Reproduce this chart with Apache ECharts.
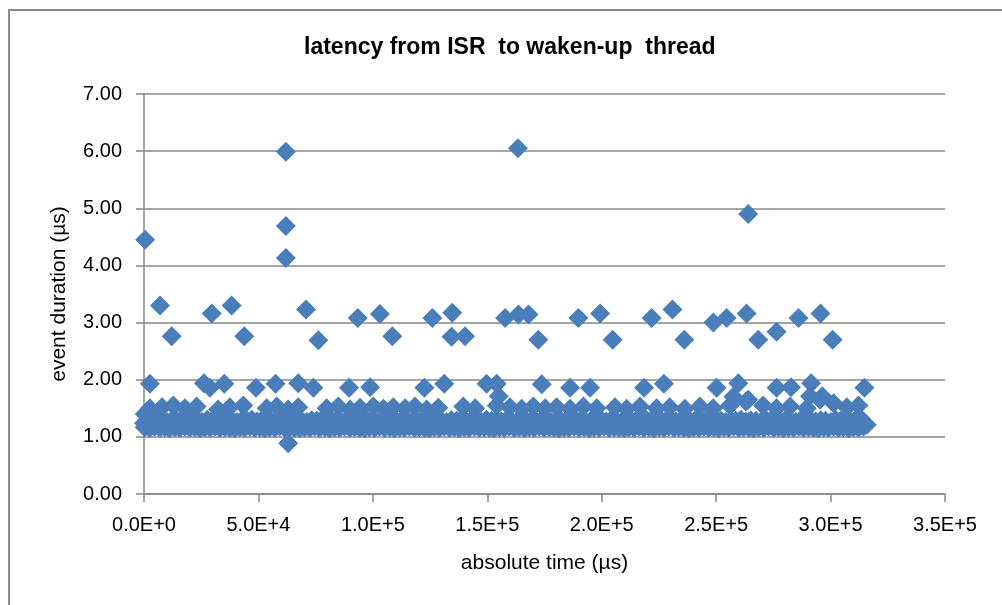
<!DOCTYPE html>
<html>
<head>
<meta charset="utf-8">
<script src="https://cdn.jsdelivr.net/npm/echarts@6/dist/echarts.min.js"></script>
<style>
html,body{margin:0;padding:0;background:#fff;}
#chart{width:1002px;height:605px;}
</style>
</head>
<body>
<div id="chart"></div>
<script>
const titleText = 'latency from ISR  to waken-up  thread';
const xAxisName = 'absolute time (µs)';
const yAxisName = 'event duration (µs)';
const xTickLabels = ['0.0E+0','5.0E+4','1.0E+5','1.5E+5','2.0E+5','2.5E+5','3.0E+5','3.5E+5'];
const yTickLabels = ['0.00','1.00','2.00','3.00','4.00','5.00','6.00','7.00'];

// dense baseline, lower row [time µs, duration µs]
const baseLow = [[300,1.17],[2500,1.16],[4600,1.18],[6900,1.16],[9100,1.17],[11200,1.15],[13500,1.17],[15600,1.16],[17900,1.18],[20000,1.16],[22200,1.17],[24500,1.15],[26600,1.17],[28800,1.16],[31000,1.18],[33100,1.16],[35400,1.17],[37500,1.16],[39700,1.15],[41900,1.17],[44000,1.16],[46300,1.18],[48400,1.16],[50600,1.17],[52800,1.15],[54900,1.17],[57200,1.16],[59300,1.18],[61500,1.16],[63700,1.17],[65800,1.16],[68100,1.15],[70200,1.17],[72400,1.16],[74600,1.18],[76700,1.16],[79000,1.17],[81100,1.15],[83300,1.17],[85500,1.16],[87600,1.18],[89900,1.16],[92000,1.17],[94200,1.16],[96400,1.15],[98500,1.17],[100800,1.16],[102900,1.18],[105100,1.16],[107300,1.17],[109400,1.15],[111700,1.17],[113800,1.16],[116000,1.18],[118200,1.16],[120300,1.17],[122600,1.16],[124700,1.15],[126900,1.17],[129100,1.16],[131200,1.18],[133500,1.16],[135600,1.17],[137800,1.15],[140000,1.17],[142100,1.16],[144400,1.18],[146500,1.16],[148700,1.17],[150900,1.16],[153000,1.15],[155300,1.17],[157400,1.16],[159600,1.18],[161800,1.16],[163900,1.17],[166200,1.15],[168300,1.17],[170500,1.16],[172700,1.18],[174800,1.16],[177100,1.17],[179200,1.16],[181400,1.15],[183600,1.17],[185700,1.16],[188000,1.18],[190100,1.16],[192300,1.17],[194500,1.15],[196600,1.17],[198900,1.16],[201000,1.18],[203200,1.16],[205400,1.17],[207500,1.16],[209800,1.15],[211900,1.17],[214100,1.16],[216300,1.18],[218400,1.16],[220700,1.17],[222800,1.15],[225000,1.17],[227200,1.16],[229300,1.18],[231600,1.16],[233700,1.17],[235900,1.16],[238100,1.15],[240200,1.17],[242500,1.16],[244600,1.18],[246800,1.16],[249000,1.17],[251100,1.15],[253400,1.17],[255500,1.16],[257700,1.18],[259900,1.16],[262000,1.17],[264300,1.16],[266400,1.15],[268600,1.17],[270800,1.16],[272900,1.18],[275200,1.16],[277300,1.17],[279500,1.15],[281700,1.17],[283800,1.16],[286100,1.18],[288200,1.16],[290400,1.17],[292600,1.16],[294700,1.15],[297000,1.17],[299100,1.16],[301300,1.18],[303500,1.16],[305600,1.17],[307900,1.15],[310000,1.17],[312200,1.16],[314400,1.18],[315800,1.21]];

// dense baseline, upper row
const baseHigh = [[0,1.24],[1300,1.29],[3500,1.27],[5700,1.30],[7900,1.28],[10100,1.26],[12300,1.29],[14400,1.28],[16700,1.30],[18800,1.27],[21000,1.29],[23200,1.28],[25300,1.26],[27600,1.30],[29700,1.28],[31900,1.29],[34100,1.27],[36200,1.30],[38500,1.28],[40600,1.26],[42800,1.29],[45000,1.28],[47100,1.30],[49400,1.27],[51500,1.29],[53700,1.28],[55900,1.26],[58000,1.30],[60300,1.28],[62400,1.29],[64600,1.27],[66800,1.30],[68900,1.28],[71200,1.26],[73300,1.29],[75500,1.28],[77700,1.30],[79800,1.27],[82100,1.29],[84200,1.28],[86400,1.26],[88600,1.30],[90700,1.28],[93000,1.29],[95100,1.27],[97300,1.30],[99500,1.28],[101600,1.26],[103900,1.29],[106000,1.28],[108200,1.30],[110400,1.27],[112500,1.29],[114800,1.28],[116900,1.26],[119100,1.30],[121300,1.28],[123400,1.29],[125700,1.27],[127800,1.30],[130000,1.28],[132200,1.26],[134300,1.29],[136600,1.28],[138700,1.30],[140900,1.27],[143100,1.29],[145200,1.28],[147500,1.26],[149600,1.30],[151800,1.28],[154000,1.29],[156100,1.27],[158400,1.30],[160500,1.28],[162700,1.26],[164900,1.29],[167000,1.28],[169300,1.30],[171400,1.27],[173600,1.29],[175800,1.28],[177900,1.26],[180200,1.30],[182300,1.28],[184500,1.29],[186700,1.27],[188800,1.30],[191100,1.28],[193200,1.26],[195400,1.29],[197600,1.28],[199700,1.30],[202000,1.27],[204100,1.29],[206300,1.28],[208500,1.26],[210600,1.30],[212900,1.28],[215000,1.29],[217200,1.27],[219400,1.30],[221500,1.28],[223800,1.26],[225900,1.29],[228100,1.28],[230300,1.30],[232400,1.27],[234700,1.29],[236800,1.28],[239000,1.26],[241200,1.30],[243300,1.28],[245600,1.29],[247700,1.27],[249900,1.30],[252100,1.28],[254200,1.26],[256500,1.29],[258600,1.28],[260800,1.30],[263000,1.27],[265100,1.29],[267400,1.28],[269500,1.26],[271700,1.30],[273900,1.28],[276000,1.29],[278300,1.27],[280400,1.30],[282600,1.28],[284800,1.26],[286900,1.29],[289200,1.28],[291300,1.30],[293500,1.27],[295700,1.29],[297800,1.28],[300100,1.26],[302200,1.30],[304400,1.28],[306600,1.29],[308700,1.27],[311000,1.30],[313100,1.32]];

// sparser points just above the baseline (~1.5)
const nearBase = [[300,1.40],[2600,1.50],[7900,1.52],[12800,1.55],[17900,1.50],[23000,1.53],[32400,1.48],[37500,1.52],[43400,1.55],[53600,1.50],[58000,1.53],[63000,1.48],[67400,1.52],[79800,1.50],[84900,1.53],[90100,1.48],[94400,1.51],[100200,1.53],[104600,1.49],[108900,1.52],[114100,1.50],[118400,1.53],[123500,1.48],[128600,1.51],[139500,1.53],[144700,1.50],[154100,1.55],[159900,1.52],[165000,1.49],[170100,1.53],[175300,1.50],[180300,1.52],[186200,1.49],[192000,1.53],[197800,1.50],[205800,1.52],[210900,1.49],[216700,1.53],[224000,1.50],[229700,1.52],[236300,1.49],[242900,1.53],[248700,1.50],[256000,1.55],[264000,1.65],[270500,1.55],[276400,1.50],[282300,1.53],[289600,1.50],[295400,1.65],[301300,1.59],[307100,1.52],[312200,1.55]];

// points between 1.6 and 2.0
const midRow = [[2600,1.93],[26200,1.94],[28800,1.86],[35100,1.93],[48900,1.86],[57500,1.93],[67400,1.94],[74000,1.86],[89600,1.86],[98800,1.87],[122500,1.86],[131200,1.93],[149700,1.93],[154100,1.93],[155000,1.71],[173800,1.92],[186200,1.86],[194900,1.86],[218500,1.86],[227200,1.93],[250200,1.86],[257500,1.70],[259700,1.94],[263000,1.62],[276400,1.86],[282700,1.87],[291000,1.71],[291500,1.94],[296400,1.71],[314800,1.86]];

// points between 2.6 and 3.4
const upperRow = [[7000,3.30],[12100,2.76],[29600,3.16],[38300,3.30],[43800,2.76],[70800,3.23],[76200,2.69],[93400,3.08],[103100,3.15],[108500,2.76],[126000,3.08],[134400,2.75],[134700,3.17],[140300,2.76],[157800,3.08],[163600,3.14],[168000,3.14],[172300,2.70],[189800,3.08],[199300,3.16],[204800,2.70],[221800,3.08],[230900,3.23],[236100,2.70],[248800,3.00],[254600,3.08],[263300,3.16],[268400,2.70],[276400,2.84],[286000,3.08],[295600,3.16],[300900,2.70]];

// isolated outliers
const outliers = [[500,4.45],[62000,5.99],[62000,4.69],[62000,4.13],[63000,0.89],[163400,6.05],[264000,4.90]];

const allPoints = [].concat(baseLow, baseHigh, nearBase, midRow, upperRow, outliers);

const gridColor = '#878787';
const chart = echarts.init(document.getElementById('chart'));
chart.setOption({
  animation: false,
  backgroundColor: '#ffffff',
  textStyle: { fontFamily: 'Liberation Sans, Arial, sans-serif' },
  title: {
    text: titleText,
    left: 304,
    top: 36,
    padding: 0,
    textStyle: { fontFamily: 'Liberation Sans', fontWeight: 'bold', fontSize: 23, color: '#000' }
  },
  graphic: [{
    type: 'rect', z: -1, silent: true,
    shape: { x: 9, y: 10, width: 1200, height: 800 },
    style: { fill: 'none', stroke: '#8c8c8c', lineWidth: 2 }
  }],
  grid: { left: 144, right: 57, top: 94, bottom: 111, containLabel: false },
  xAxis: {
    type: 'value', min: 0, max: 350000, interval: 50000,
    name: xAxisName, nameLocation: 'middle', nameGap: 59, nameMoveOverlap: false,
    nameTextStyle: { fontSize: 21, color: '#000', fontFamily: 'Liberation Sans' },
    axisLine: { show: true, lineStyle: { color: gridColor, width: 1.5 } },
    axisTick: { show: true, length: 8, inside: false, lineStyle: { color: gridColor, width: 1.5 } },
    axisLabel: { margin: 21, fontSize: 20, color: '#000',
      formatter: function (v) { return xTickLabels[Math.round(v / 50000)]; } },
    splitLine: { show: false }
  },
  yAxis: {
    type: 'value', min: 0, max: 7, interval: 1,
    name: yAxisName, nameLocation: 'middle', nameGap: 74, nameMoveOverlap: false,
    nameTextStyle: { fontSize: 21, color: '#000', fontFamily: 'Liberation Sans' },
    axisLine: { show: true, lineStyle: { color: gridColor, width: 1.5 } },
    axisTick: { show: true, length: 8, inside: false, lineStyle: { color: gridColor, width: 1.5 } },
    axisLabel: { margin: 22, fontSize: 20, color: '#000',
      formatter: function (v) { return yTickLabels[Math.round(v)]; } },
    splitLine: { show: true, lineStyle: { color: gridColor, width: 1.5 } }
  },
  series: [{
    type: 'scatter',
    symbol: 'diamond',
    symbolSize: 20,
    itemStyle: { color: '#4a7ebb', opacity: 1 },
    emphasis: { disabled: true },
    data: allPoints
  }]
});
</script>
</body>
</html>
